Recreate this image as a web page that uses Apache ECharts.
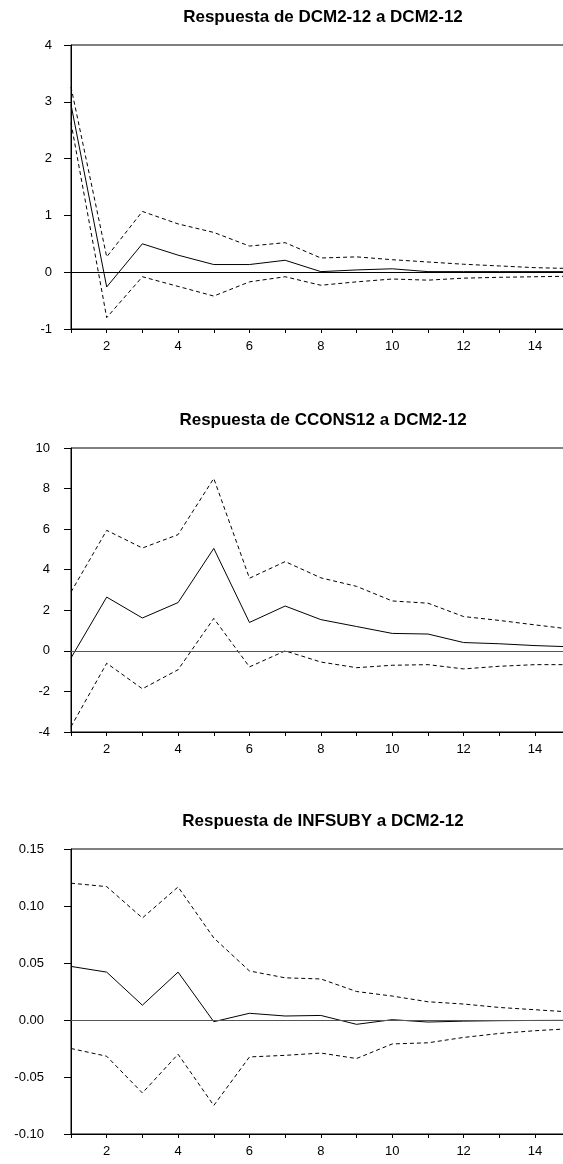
<!DOCTYPE html>
<html>
<head>
<meta charset="utf-8">
<script src="https://cdn.jsdelivr.net/npm/echarts@6/dist/echarts.min.js"></script>
<style>
html,body{margin:0;padding:0;background:#fff;}
#chart{width:563px;height:1164px;}
</style>
</head>
<body>
<div id="chart"></div>
<script>
// Periods (x axis)
const periods = [1,2,3,4,5,6,7,8,9,10,11,12,13,14,15];

// Panel titles
const titles = [
  "Respuesta de DCM2-12 a DCM2-12",
  "Respuesta de CCONS12 a DCM2-12",
  "Respuesta de INFSUBY a DCM2-12"
];

// Panel 1: DCM2-12 -> DCM2-12
const resp1  = [2.95, -0.26, 0.50, 0.30, 0.135, 0.135, 0.21, 0.01, 0.04, 0.06, 0.01, 0.01, 0.01, 0.01, 0.01];
const upper1 = [3.26, 0.27, 1.07, 0.85, 0.70, 0.46, 0.52, 0.25, 0.27, 0.22, 0.18, 0.14, 0.11, 0.08, 0.065];
const lower1 = [2.63, -0.80, -0.08, -0.25, -0.42, -0.17, -0.08, -0.23, -0.17, -0.12, -0.14, -0.105, -0.09, -0.08, -0.07];

// Panel 2: CCONS12 -> DCM2-12
const resp2  = [-0.35, 2.65, 1.62, 2.38, 5.05, 1.40, 2.21, 1.54, 1.20, 0.86, 0.83, 0.41, 0.35, 0.26, 0.20];
const upper2 = [2.90, 5.94, 5.07, 5.73, 8.50, 3.58, 4.40, 3.60, 3.18, 2.46, 2.35, 1.69, 1.50, 1.28, 1.07];
const lower2 = [-3.74, -0.61, -1.87, -0.93, 1.60, -0.79, 0.00, -0.55, -0.83, -0.71, -0.68, -0.89, -0.76, -0.68, -0.68];

// Panel 3: INFSUBY -> DCM2-12
const resp3  = [0.047, 0.042, 0.013, 0.042, -0.0015, 0.0059, 0.0035, 0.004, -0.0038, 0.0003, -0.0018, -0.001, -0.0006, -0.0004, -0.0003];
const upper3 = [0.120, 0.117, 0.0895, 0.1167, 0.072, 0.043, 0.037, 0.036, 0.025, 0.021, 0.016, 0.014, 0.011, 0.009, 0.007];
const lower3 = [-0.025, -0.0318, -0.064, -0.030, -0.075, -0.0324, -0.031, -0.029, -0.0338, -0.021, -0.020, -0.0153, -0.0118, -0.0094, -0.0076];

// Y axis settings (min, max, interval) per panel
const yMin = [-1, -4, -0.10];
const yMax = [4, 10, 0.15];
const yStep = [1, 2, 0.05];
const yDecimals = [0, 0, 2];

const panels = [
  {resp: resp1, upper: upper1, lower: lower1},
  {resp: resp2, upper: upper2, lower: lower2},
  {resp: resp3, upper: upper3, lower: lower3}
];

const FONT = "'Liberation Sans', Arial, sans-serif";
const gridTops = [45, 448, 849];
const gridH = [284, 284, 285];
const labelMargins = [19, 21, 27];
const zeroColors = ['#000', '#555', '#555'];

const chart = echarts.init(document.getElementById('chart'), null, {renderer: 'canvas'});

const grids = [], xAxes = [], yAxes = [], series = [], graphics = [];
const pair = arr => periods.map((p, i) => [p, arr[i]]);

panels.forEach((pn, k) => {
  grids.push({
    left: 71, top: gridTops[k], width: 499.7, height: gridH[k],
    show: true, borderColor: '#000', borderWidth: 1, backgroundColor: 'transparent',
    outerBoundsMode: 'none', containLabel: false
  });
  xAxes.push({
    type: 'value', gridIndex: k, min: 1, max: 15, interval: 1,
    axisLine: {show: true, onZero: false, lineStyle: {color: '#000', width: 1}},
    axisTick: {show: true, inside: false, length: 4, lineStyle: {color: '#000'}},
    axisLabel: {
      show: true, margin: 11, color: '#000', fontSize: 13, fontFamily: FONT,
      formatter: v => (v % 2 === 0 ? String(v) : ''),
      showMinLabel: true, showMaxLabel: true
    },
    splitLine: {show: false}
  });
  yAxes.push({
    type: 'value', gridIndex: k, min: yMin[k], max: yMax[k], interval: yStep[k],
    axisLine: {show: true, onZero: false, lineStyle: {color: '#000', width: 1}},
    axisTick: {show: true, inside: false, length: 7, lineStyle: {color: '#000'}},
    axisLabel: {
      show: true, margin: labelMargins[k], color: '#000', fontSize: 13, fontFamily: FONT,
      formatter: v => Number(v).toFixed(yDecimals[k])
    },
    splitLine: {show: false}
  });
  series.push({
    type: 'line', xAxisIndex: k, yAxisIndex: k, data: pair(pn.resp),
    symbol: 'none', lineStyle: {color: '#000', width: 1}, silent: true, z: 3,
    markLine: {
      silent: true, symbol: ['none', 'none'], label: {show: false},
      lineStyle: {color: zeroColors[k], width: 1, type: 'solid'},
      data: [{yAxis: 0}], animation: false
    }
  });
  series.push({
    type: 'line', xAxisIndex: k, yAxisIndex: k, data: pair(pn.upper),
    symbol: 'none', lineStyle: {color: '#000', width: 1, type: [4, 3]}, silent: true, z: 2
  });
  series.push({
    type: 'line', xAxisIndex: k, yAxisIndex: k, data: pair(pn.lower),
    symbol: 'none', lineStyle: {color: '#000', width: 1, type: [4, 3]}, silent: true, z: 2
  });
  graphics.push({
    type: 'text', x: 323, y: gridTops[k] - 28,
    style: {
      text: titles[k], fill: '#000', font: 'bold 17px ' + FONT,
      align: 'center', textAlign: 'center', verticalAlign: 'middle', textVerticalAlign: 'middle'
    }
  });
});

chart.setOption({
  animation: false,
  backgroundColor: '#fff',
  grid: grids,
  xAxis: xAxes,
  yAxis: yAxes,
  series: series,
  graphic: graphics
});
</script>
</body>
</html>
